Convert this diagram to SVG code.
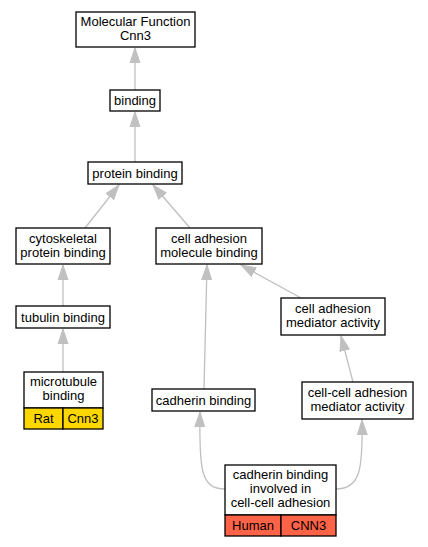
<svg xmlns="http://www.w3.org/2000/svg" width="428" height="547" viewBox="0 0 428 547">
<style>
.n rect{fill:#fff;stroke:#000;stroke-width:1.3}
.n .g{fill:#FFD700}
.n .t{fill:#FF6347}
text{font-family:"Liberation Sans",Arial,sans-serif;font-size:13px;text-anchor:middle;fill:#000}
.e path{fill:none;stroke:#c0c0c0;stroke-width:1.3}
</style>
<defs>
<marker id="a" markerUnits="userSpaceOnUse" markerWidth="16" markerHeight="12" viewBox="0 0 16 12" refX="15" refY="6" orient="auto">
<path d="M0,1 L15,6 L0,11 Z" fill="#c0c0c0" stroke="#c0c0c0" stroke-width="1"/>
</marker>
</defs>
<rect width="428" height="547" fill="#fff"/>
<g class="e">
<path d="M135,90 L135,48" marker-end="url(#a)"/>
<path d="M135,162 L135,112" marker-end="url(#a)"/>
<path d="M85,228 L119,185" marker-end="url(#a)"/>
<path d="M190,228 L153,185" marker-end="url(#a)"/>
<path d="M63,306 L63,265" marker-end="url(#a)"/>
<path d="M63,372 L63,329" marker-end="url(#a)"/>
<path d="M204,389 L207,265" marker-end="url(#a)"/>
<path d="M301,298 L241,265" marker-end="url(#a)"/>
<path d="M353,382 L341,336" marker-end="url(#a)"/>
<path d="M225,489 C201,489 199,470 200,412" marker-end="url(#a)"/>
<path d="M336,489 C360,489 363,470 362,420" marker-end="url(#a)"/>
</g>
<g id="mf" class="n"><rect x="76" y="12" width="119" height="35"/><text x="135.5" y="26">Molecular Function</text><text x="135.5" y="40">Cnn3</text></g>
<g id="binding" class="n"><rect x="110" y="90" width="50" height="21"/><text x="135" y="105">binding</text></g>
<g id="protein_binding" class="n"><rect x="88" y="162" width="94" height="22"/><text x="135" y="177.5">protein binding</text></g>
<g id="cytoskeletal" class="n"><rect x="16" y="228" width="94" height="36"/><text x="63" y="242.5">cytoskeletal</text><text x="63" y="256.5">protein binding</text></g>
<g id="cam_binding" class="n"><rect x="156" y="228" width="106" height="36"/><text x="209" y="242.5">cell adhesion</text><text x="209" y="256.5">molecule binding</text></g>
<g id="tubulin" class="n"><rect x="16" y="306" width="94" height="22"/><text x="63" y="321.5">tubulin binding</text></g>
<g id="cam_activity" class="n"><rect x="281" y="298" width="104" height="37"/><text x="333" y="312.5">cell adhesion</text><text x="333" y="326.5">mediator activity</text></g>
<g id="microtubule" class="n"><rect x="24" y="372" width="79" height="36"/><text x="63.5" y="386">microtubule</text><text x="63.5" y="400">binding</text><rect class="g" x="24" y="408" width="39" height="21"/><rect class="g" x="63" y="408" width="40" height="21"/><text x="43.5" y="423">Rat</text><text x="83" y="423">Cnn3</text></g>
<g id="cadherin" class="n"><rect x="152" y="389" width="103" height="22"/><text x="203.5" y="404.5">cadherin binding</text></g>
<g id="cc_activity" class="n"><rect x="302" y="382" width="111" height="37"/><text x="357.5" y="396.5">cell-cell adhesion</text><text x="357.5" y="410.5">mediator activity</text></g>
<g id="cadherin_cc" class="n"><rect x="225" y="465" width="111" height="50"/><text x="280.5" y="478.5">cadherin binding</text><text x="280.5" y="492.5">involved in</text><text x="280.5" y="506.5">cell-cell adhesion</text><rect class="t" x="225" y="515" width="56" height="21"/><rect class="t" x="281" y="515" width="55" height="21"/><text x="253" y="530">Human</text><text x="308.5" y="530">CNN3</text></g>
</svg>
